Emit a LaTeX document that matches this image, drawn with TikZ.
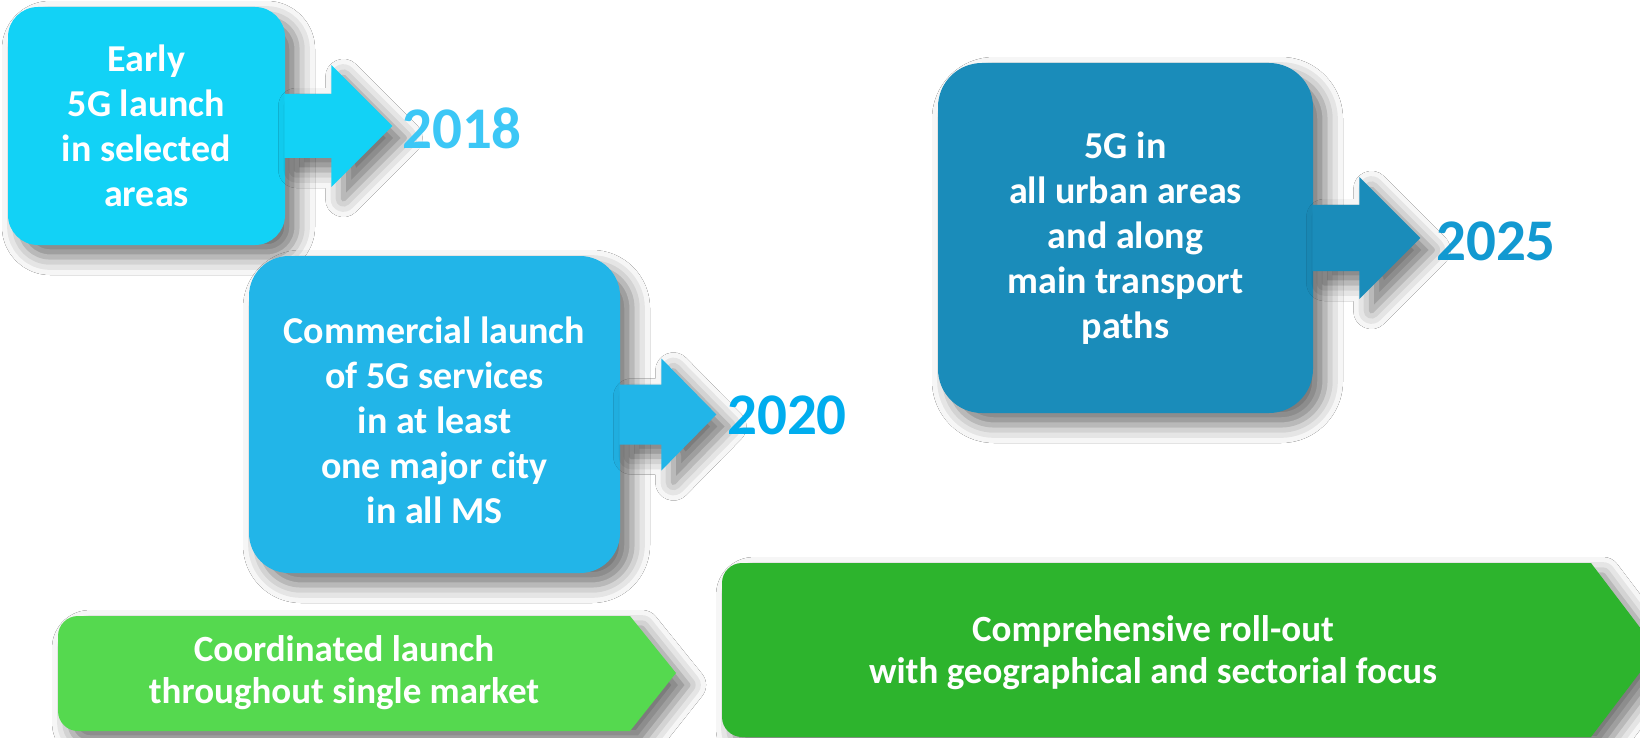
\documentclass[tikz,border=0pt]{standalone}
\usepackage{fontspec}
\setmainfont{Carlito}
\usetikzlibrary{shadows.blur}

\definecolor{early}{HTML}{12D2F6}
\definecolor{commercial}{HTML}{22B5E8}
\definecolor{urban}{HTML}{1A8CBA}
\definecolor{yearA}{HTML}{3CC7F6}
\definecolor{yearB}{HTML}{00ADEE}
\definecolor{yearC}{HTML}{1299D1}
\definecolor{coordgreen}{HTML}{55D94F}
\definecolor{rollgreen}{HTML}{2DB42D}

\begin{document}
\begin{tikzpicture}
    [
        x=0.5pt, y=-0.5pt,
        softshadow/.style={blur shadow={shadow xshift=6pt, shadow yshift=-6pt,
                shadow blur radius=9pt, shadow opacity=55}},
        stagebox/.style={softshadow, text=white, align=center, inner sep=0pt,
                font=\bfseries\fontsize{19}{22.5}\selectfont},
        year/.style={inner sep=0pt, font=\bfseries\fontsize{29.5}{31}\selectfont},
        band/.style={text=white, align=center, inner sep=0pt,
                font=\bfseries\fontsize{18.5}{21}\selectfont},
    ]

    \path[use as bounding box, fill=white] (0,0) rectangle (1640,738);

    % 2018
    \node (b1) at (146.5,126) [stagebox, fill=early, rounded corners=15pt,
        minimum width=138.5pt, minimum height=119pt]
        {Early\\5G launch\\in selected\\areas};
    \fill[early, softshadow] (b1.east) ++(-1,-32) -- ++(47,0) -- ++(0,-29)
        -- ++(61,61) -- ++(-61,61) -- ++(0,-29) -- ++(-47,0) -- cycle;
    \node (y1) at (462,128) [year, text=yearA] {2018};

    % 2020
    \node (b2) at (434.5,414.5) [stagebox, fill=commercial, rounded corners=20pt,
        minimum width=185.5pt, minimum height=158.5pt, text height=109pt]
        {Commercial launch\\of 5G services\\in at least\\one major city\\in all MS};
    \fill[commercial, softshadow] (b2.east) ++(-1,-30) -- ++(42,0) -- ++(0,-26)
        -- ++(55,56) -- ++(-55,56) -- ++(0,-26) -- ++(-42,0) -- cycle;
    \node (y2) at (787,415) [year, text=yearB] {2020};

    % 2025
    \node (b3) at (1125.5,238) [stagebox, fill=urban, rounded corners=22pt,
        minimum width=187.5pt, minimum height=175pt]
        {5G in\\all urban areas\\and along\\main transport\\paths};
    \fill[urban, softshadow] (b3.east) ++(-1,-33) -- ++(47,0) -- ++(0,-28)
        -- ++(61,61) -- ++(-61,61) -- ++(0,-28) -- ++(-47,0) -- cycle;
    \node (y3) at (1496,241) [year, text=yearC] {2025};

    % phases
    \fill[coordgreen, softshadow] (676,673) -- (630,731) [rounded corners=10pt]
        -- (58,731) -- (58,616) [sharp corners] -- (630,616) -- cycle;
    \node (g1) at (344,673) [band] {Coordinated launch\\throughout single market};

    \fill[rollgreen, softshadow] (1657,650) -- (1591,737) [rounded corners=10pt]
        -- (722,737) -- (722,563) [sharp corners] -- (1591,563) -- cycle;
    \node (g2) at (1153,653) [band] {Comprehensive roll-out\\with geographical and sectorial focus};

\end{tikzpicture}
\end{document}
